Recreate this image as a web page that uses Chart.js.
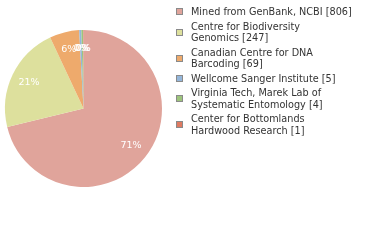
<!DOCTYPE html>
<html>
<head>
<meta charset="utf-8">
<script src="https://cdn.jsdelivr.net/npm/chart.js@4/dist/chart.umd.min.js"></script>
<style>
  html, body { margin: 0; padding: 0; background: #fff; }
  #wrap { position: relative; width: 380px; height: 240px; overflow: hidden; }
  #chart { position: absolute; left: 0; top: 0; }
  #legend {
    position: absolute; left: 176px; top: 6px;
    font-family: "DejaVu Sans", sans-serif; font-size: 9.7px; color: #333;
  }
  .item { display: flex; align-items: center; margin-bottom: 3px; }
  .box { width: 5px; height: 5px; border: 1px solid #8a8a8a; margin-right: 8px; flex: none; }
  .txt { line-height: 11.5px; white-space: pre; }
</style>
</head>
<body>
<div id="wrap">
  <canvas id="chart" width="380" height="240"></canvas>
  <div id="legend"></div>
</div>
<script>
// source institutions (legend lines) and record counts
const labels = [
  ['Mined from GenBank, NCBI [806]'],
  ['Centre for Biodiversity', 'Genomics [247]'],
  ['Canadian Centre for DNA', 'Barcoding [69]'],
  ['Wellcome Sanger Institute [5]'],
  ['Virginia Tech, Marek Lab of', 'Systematic Entomology [4]'],
  ['Center for Bottomlands', 'Hardwood Research [1]']
];
const counts = [806, 247, 69, 5, 4, 1];
const colors = ['#e0a49b', '#dde09d', '#eeaa6c', '#94b6da', '#9dc47c', '#df7a61'];

const total = counts.reduce((a, b) => a + b, 0);

// white percent labels inside the slices
const pctLabels = {
  id: 'pctLabels',
  afterDatasetsDraw(chart) {
    const ctx = chart.ctx;
    const meta = chart.getDatasetMeta(0);
    ctx.save();
    ctx.fillStyle = '#fff';
    ctx.font = '9.5px "DejaVu Sans", sans-serif';
    ctx.textAlign = 'center';
    ctx.textBaseline = 'middle';
    meta.data.forEach((arc, i) => {
      const p = arc.getProps(['x', 'y', 'startAngle', 'endAngle', 'outerRadius'], true);
      const mid = (p.startAngle + p.endAngle) / 2;
      const r = p.outerRadius * 0.77;
      const pct = Math.floor(counts[i] / total * 100);
      ctx.fillText(pct + '%', p.x + Math.cos(mid) * r, p.y + Math.sin(mid) * r);
    });
    ctx.restore();
  }
};

new Chart(document.getElementById('chart'), {
  type: 'pie',
  data: {
    labels: labels.map(l => l.join(' ')),
    datasets: [{
      data: counts,
      backgroundColor: colors,
      borderWidth: 0
    }]
  },
  options: {
    responsive: false,
    animation: false,
    layout: { padding: { left: 5, top: 30, right: 218, bottom: 53 } },
    plugins: {
      legend: { display: false },
      tooltip: { enabled: false }
    }
  },
  plugins: [pctLabels]
});

// html legend built from the same arrays
const legend = document.getElementById('legend');
labels.forEach((lines, i) => {
  const item = document.createElement('div');
  item.className = 'item';
  const box = document.createElement('span');
  box.className = 'box';
  box.style.background = colors[i];
  const txt = document.createElement('span');
  txt.className = 'txt';
  txt.textContent = lines.join('\n');
  item.appendChild(box);
  item.appendChild(txt);
  legend.appendChild(item);
});
</script>
</body>
</html>
